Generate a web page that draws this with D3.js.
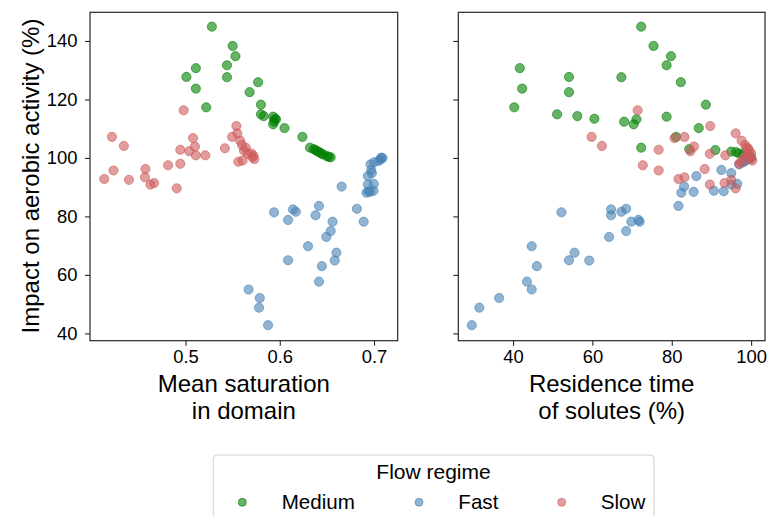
<!DOCTYPE html>
<html><head><meta charset="utf-8">
<script src="https://cdn.jsdelivr.net/npm/d3@7"></script>
<style>body{margin:0;background:#fff}svg{display:block;font-family:"Liberation Sans",Arial,sans-serif}</style>
</head><body>
<svg id="chart" width="769" height="516"></svg>
<script>
// ---- data ----
const mediumImpact = [144.9,138.3,134.8,131.7,130.7,127.7,127.6,125.9,123.7,122.5,118.2,117.3,114.9,114.3,114.1,113.4,113.2,112.4,111.5,110.2,107.2,103.5,103.0,102.7,102.2,102.0,101.5,101.2,100.6,100.4,100.2];
const mediumSat    = [0.528,0.550,0.553,0.544,0.511,0.501,0.544,0.577,0.511,0.568,0.580,0.522,0.580,0.583,0.593,0.595,0.596,0.594,0.593,0.605,0.624,0.632,0.636,0.638,0.640,0.642,0.644,0.646,0.650,0.652,0.654];
const mediumRes    = [72.3,75.4,79.8,78.7,41.7,54.1,67.3,82.3,42.3,54.1,88.6,40.3,51.1,56.2,78.7,60.5,71.1,68.0,70.4,86.8,81.1,72.3,84.4,91.0,95.0,96.2,97.0,98.0,99.0,99.5,100.0];

const fastImpact = [42.8,48.8,52.1,55.0,57.7,63.0,64.9,65.0,67.6,69.8,73.0,75.0,78.2,78.2,78.8,80.4,81.4,81.6,82.4,82.6,83.6,88.1,88.4,88.8,88.6,90.2,90.9,91.1,93.8,94.8,95.9,97.8,98.5,99.0,99.5,100.1,100.0];
const fastSat    = [0.5876,0.578,0.5788,0.5669,0.6416,0.6447,0.6583,0.6088,0.6601,0.630,0.6494,0.654,0.656,0.689,0.6088,0.638,0.594,0.617,0.614,0.6818,0.6416,0.692,0.696,0.6995,0.694,0.6656,0.6935,0.6998,0.6935,0.6977,0.697,0.6963,0.700,0.705,0.707,0.7076,0.709];
const fastRes    = [29.6,31.5,36.5,44.7,43.5,46.0,59.2,54.1,55.5,44.7,64.2,68.5,69.8,71.9,71.6,64.7,52.2,67.3,64.7,68.5,81.7,82.4,85.5,90.6,93.1,83.1,95.0,96.5,86.2,95.0,92.5,97.0,98.0,98.5,99.0,99.5,100.0];

const slowImpact = [116.3,110.9,108.4,107.2,107.2,106.8,105.9,104.4,104.1,103.9,103.3,102.8,102.3,102.5,103.5,101.4,100.9,100.9,101.5,100.8,100.2,99.6,99.1,98.7,98.0,97.5,96.2,95.7,93.4,92.8,92.5,91.4,90.9,89.6];
const slowSat    = [0.498,0.554,0.555,0.422,0.5495,0.508,0.558,0.560,0.4346,0.510,0.5418,0.4945,0.504,0.562,0.564,0.566,0.511,0.521,0.570,0.572,0.571,0.573,0.5605,0.556,0.4945,0.4815,0.4575,0.4236,0.457,0.4138,0.440,0.4667,0.4628,0.4907];
const slowRes    = [71.4,89.7,96.1,59.8,83.2,80.7,97.6,98.5,62.4,85.6,99.2,76.7,84.7,99.5,98.8,89.6,93.5,99.0,100.0,99.6,98.3,99.8,100.3,97.5,97.0,72.7,88.3,76.7,83.2,81.7,95.0,93.3,89.6,96.1];

const seriesNames = ["Medium","Fast","Slow"];
const seriesColors = ["green","steelblue","indianred"];
const yTicks = [40,60,80,100,120,140];
const satTicks = [0.5,0.6,0.7];
const resTicks = [40,60,80,100];

const series = [
  {name:seriesNames[0], color:seriesColors[0], y:mediumImpact, sat:mediumSat, res:mediumRes},
  {name:seriesNames[1], color:seriesColors[1], y:fastImpact, sat:fastSat, res:fastRes},
  {name:seriesNames[2], color:seriesColors[2], y:slowImpact, sat:slowSat, res:slowRes}
];

// ---- layout ----
const svg = d3.select("#chart");
const plotTop = 12.3, plotBottom = 340.7;
const y = d3.scaleLinear().domain([37.5,149.8]).range([plotBottom, plotTop]);
const panels = [
  {key:"sat", x:d3.scaleLinear().domain([0.3987,0.7251]).range([90,397.7]), ticks:satTicks, fmt:d3.format(".1f"), label:["Mean saturation","in domain"], yLabels:true},
  {key:"res", x:d3.scaleLinear().domain([26.2,103.5]).range([458.3,765]), ticks:resTicks, fmt:d3.format("d"), label:["Residence time","of solutes (%)"], yLabels:false}
];

panels.forEach(p => {
  const g = svg.append("g");
  const [x0,x1] = p.x.range();
  series.forEach(s => {
    g.append("g").selectAll("circle").data(s.y.map((v,i)=>({x:s[p.key][i], y:v})))
      .join("circle")
      .attr("cx", d=>p.x(d.x)).attr("cy", d=>y(d.y)).attr("r", 4.6)
      .attr("fill", s.color).attr("fill-opacity", 0.6)
      .attr("stroke", s.color).attr("stroke-opacity", 0.6).attr("stroke-width", 1);
  });
  g.append("rect").attr("x",x0).attr("y",plotTop).attr("width",x1-x0).attr("height",plotBottom-plotTop)
    .attr("fill","none").attr("stroke","#262626").attr("stroke-width",1.2);
  const ax = g.append("g").attr("transform",`translate(0,${plotBottom})`)
    .call(d3.axisBottom(p.x).tickValues(p.ticks).tickFormat(p.fmt).tickSize(5).tickPadding(4));
  const ay = g.append("g").attr("transform",`translate(${x0},0)`)
    .call(d3.axisLeft(y).tickValues(yTicks).tickSize(5).tickPadding(7.5).tickFormat(p.yLabels ? d3.format("d") : ()=>""));
  [ax,ay].forEach(a=>{
    a.select(".domain").remove();
    a.selectAll("line").attr("stroke","#262626").attr("stroke-width",1.1);
    a.selectAll("text").attr("fill","#000").style("font-size","18.4px").style("font-family",'"Liberation Sans",Arial,sans-serif');
  });
  const cx = (x0+x1)/2;
  g.append("text").attr("x",cx).attr("y",392).attr("text-anchor","middle").style("font-size","24px").text(p.label[0]);
  g.append("text").attr("x",cx).attr("y",419).attr("text-anchor","middle").style("font-size","24px").text(p.label[1]);
});

svg.append("text").attr("transform","translate(38.5,176) rotate(-90)").attr("text-anchor","middle")
  .style("font-size","24px").text("Impact on aerobic activity (%)");

const lg = svg.append("g");
lg.append("rect").attr("x",213.3).attr("y",455).attr("width",440.7).attr("height",80).attr("rx",4)
  .attr("fill","#fff").attr("stroke","#d0d0d0").attr("stroke-width",1);
lg.append("text").attr("x",433.5).attr("y",479).attr("text-anchor","middle").style("font-size","21px").text("Flow regime");
const markerX = [242.3,419,561.7], labelX = [281.7,458.3,600.7];
series.forEach((s,i)=>{
  lg.append("circle").attr("cx",markerX[i]).attr("cy",502.3).attr("r",4)
    .attr("fill",s.color).attr("fill-opacity",0.6).attr("stroke",s.color).attr("stroke-opacity",0.6);
  lg.append("text").attr("x",labelX[i]).attr("y",509).style("font-size","20.6px").text(s.name);
});
</script>
</body></html>
